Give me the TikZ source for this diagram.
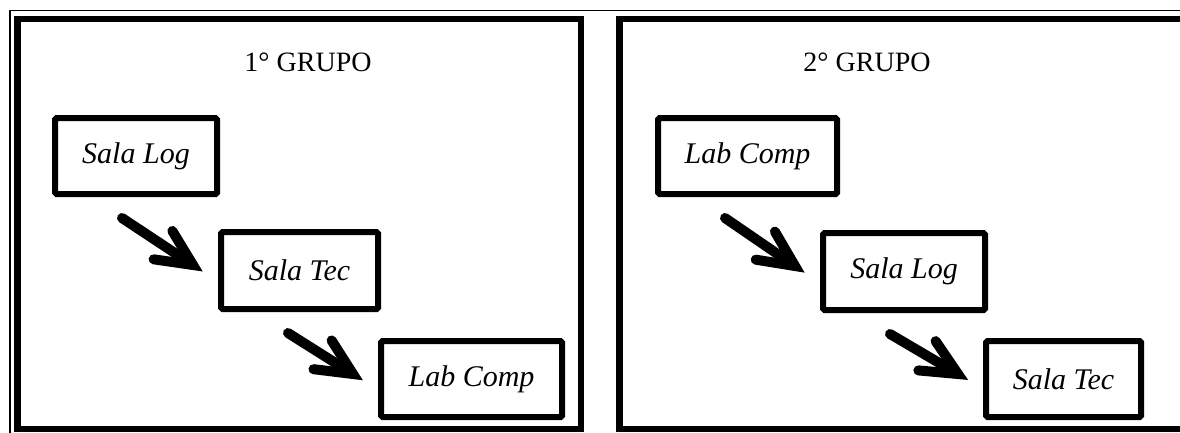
\documentclass[tikz,border=0pt]{standalone}
\usepackage{fontspec}
\setmainfont{Liberation Serif}
\usetikzlibrary{calc}
\tikzset{
  panel/.style={line width=6.5pt},
  frame/.style={line width=1.5pt},
  room/.style={draw, line width=6pt, rounded corners=1.5pt, inner sep=0pt,
    font=\fontsize{30}{30}\selectfont\itshape},
  title/.style={inner sep=0pt, font=\fontsize{28}{28}\selectfont},
  flow/.style={line width=10pt, line cap=round, line join=miter, miter limit=10},
}
\begin{document}
\begin{tikzpicture}[x=1pt,y=-1pt]
\useasboundingbox (0,0) rectangle (1180,432);
\clip (0,0) rectangle (1180,432);
\fill[white] (0,0) rectangle (1180,432);
% outer thin frame
\draw[frame] (10,445) -- (10,10.25) -- (1195,10.25);
% panels
\draw[panel] (17.25,18.75) rectangle (581,429);
\draw[panel] (619.5,18.75) rectangle (1200,429);
% titles
\node[title] (t1) at (308,62) {1° GRUPO};
\node[title] (t2) at (867,62) {2° GRUPO};
% boxes panel 1
\node[room, minimum width=162pt, minimum height=76pt] (a1) at (136,156) {Sala Log};
\node[room, minimum width=157pt, minimum height=77pt] (b1) at (299.5,270.5) {Sala Tec};
\node[room, minimum width=181pt, minimum height=76pt] (c1) at (471.5,379) {Lab Comp};
% boxes panel 2
\node[room, minimum width=179pt, minimum height=76pt] (a2) at (747.5,156) {Lab Comp};
\node[room, minimum width=162pt, minimum height=77pt] (b2) at (904,271.5) {Sala Log};
\node[room, minimum width=155pt, minimum height=76pt] (c2) at (1063.5,379) {Sala Tec};
% arrows
\foreach \p/\q in {a1/b1, b1/c1, a2/b2, b2/c2}{
  \coordinate (s-\p) at ($(\p.south west)+(70,21)$);
  \coordinate (e-\p) at ($(\q.north west)+(-25,36)$);
  \draw[flow] (s-\p) -- (e-\p);
  \draw[flow] ($(e-\p)!36pt!(s-\p)!17pt!90:(e-\p)$) -- (e-\p) -- ($(e-\p)!36pt!(s-\p)!17pt!-90:(e-\p)$);
}
\end{tikzpicture}
\end{document}
